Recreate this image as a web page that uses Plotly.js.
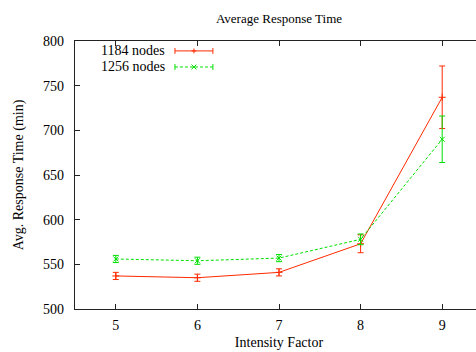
<!DOCTYPE html>
<html>
<head>
<meta charset="utf-8">
<script src="https://cdn.plot.ly/plotly-3.0.1.min.js"></script>
<style>
  html, body { margin: 0; padding: 0; overflow: hidden; background: #fff; }
  #chart { width: 500px; height: 352px; }
</style>
</head>
<body>
<div id="chart"></div>
<script>
// Intensity factor on the x axis
const intensity = [5, 6, 7, 8, 9];

// Average response time (min) and its error for each network size
const nodes1184 = [537, 535, 541, 573, 737];
const err1184   = [4, 4, 4, 10, 35];
const nodes1256 = [556, 554, 557, 578, 690];
const err1256   = [4, 4, 4, 6, 26];

const seriesNames = ['1184 nodes', '1256 nodes'];
const yTicks = [500, 550, 600, 650, 700, 750, 800];

const RED = '#ff2a00';
const GREEN = '#00e000';
const FONT = 'Liberation Serif';
const FS = 14;

const traces = [
  {
    x: intensity, y: nodes1184, name: seriesNames[0],
    type: 'scatter', mode: 'lines+markers',
    line: { color: RED, width: 1 },
    marker: { symbol: 'cross-thin', size: 5, color: RED, line: { color: RED, width: 1 } },
    error_y: { type: 'data', array: err1184, visible: true, color: RED, thickness: 1, width: 3 },
    showlegend: false
  },
  {
    x: intensity, y: nodes1256, name: seriesNames[1],
    type: 'scatter', mode: 'lines+markers',
    line: { color: GREEN, width: 1, dash: '3px,2px' },
    marker: { symbol: 'x-thin', size: 5, color: GREEN, line: { color: GREEN, width: 1 } },
    error_y: { type: 'data', array: err1256, visible: true, color: GREEN, thickness: 1, width: 3 },
    showlegend: false
  }
];

// Hand-built key in the upper left: label, sample line with end caps, and marker
function keyEntry(y, color, dash, marker) {
  const x0 = 0.245, x1 = 0.338, xm = (x0 + x1) / 2;
  const capH = 0.011, mk = 0.006, mkY = 0.009;
  const ln = { color: color, width: 1, dash: dash };
  const solid = { color: color, width: 1 };
  const s = [
    { type: 'line', xref: 'paper', yref: 'paper', x0: x0, x1: x1, y0: y, y1: y, line: ln },
    { type: 'line', xref: 'paper', yref: 'paper', x0: x0, x1: x0, y0: y - capH, y1: y + capH, line: solid },
    { type: 'line', xref: 'paper', yref: 'paper', x0: x1, x1: x1, y0: y - capH, y1: y + capH, line: solid }
  ];
  if (marker === 'plus') {
    s.push({ type: 'line', xref: 'paper', yref: 'paper', x0: xm - mk, x1: xm + mk, y0: y, y1: y, line: solid });
    s.push({ type: 'line', xref: 'paper', yref: 'paper', x0: xm, x1: xm, y0: y - mkY, y1: y + mkY, line: solid });
  } else {
    s.push({ type: 'line', xref: 'paper', yref: 'paper', x0: xm - mk, x1: xm + mk, y0: y - mkY, y1: y + mkY, line: solid });
    s.push({ type: 'line', xref: 'paper', yref: 'paper', x0: xm - mk, x1: xm + mk, y0: y + mkY, y1: y - mkY, line: solid });
  }
  return s;
}

const keyY = [0.963, 0.903];
const shapes = [].concat(
  keyEntry(keyY[0], RED, 'solid', 'plus'),
  keyEntry(keyY[1], GREEN, '3px,2px', 'x')
);

const annotations = seriesNames.map((name, i) => ({
  text: name, xref: 'paper', yref: 'paper', x: 0.2255, y: keyY[i],
  xanchor: 'right', yanchor: 'middle', showarrow: false,
  font: { family: FONT, size: FS, color: '#000' }
}));

const axisCommon = {
  showline: true, linecolor: '#222', linewidth: 1.3, mirror: 'ticks',
  ticks: 'inside', ticklen: 5, tickwidth: 1, tickcolor: '#222',
  showgrid: false, zeroline: false,
  tickfont: { family: FONT, size: FS, color: '#000' }
};

const layout = {
  width: 500, height: 352,
  margin: { l: 75, r: 17, t: 41, b: 43 },
  paper_bgcolor: '#fff', plot_bgcolor: '#fff',
  title: {
    text: 'Average Response Time',
    font: { family: FONT, size: 13, color: '#000' },
    x: 0.5, xref: 'paper', y: 0.948, yanchor: 'middle'
  },
  xaxis: Object.assign({}, axisCommon, {
    range: [4.5, 9.5], tickvals: intensity, ticktext: intensity.map(String),
    ticklabelstandoff: 3,
    title: { text: 'Intensity Factor', font: { family: FONT, size: FS, color: '#000' }, standoff: 5 }
  }),
  yaxis: Object.assign({}, axisCommon, {
    range: [500, 800], tickvals: yTicks, ticktext: yTicks.map(String),
    ticklabelstandoff: 7,
    title: { text: 'Avg. Response Time (min)', font: { family: FONT, size: FS, color: '#000' }, standoff: 16 }
  }),
  shapes: shapes,
  annotations: annotations,
  showlegend: false
};

Plotly.newPlot('chart', traces, layout, { staticPlot: true, displayModeBar: false });
</script>
</body>
</html>
